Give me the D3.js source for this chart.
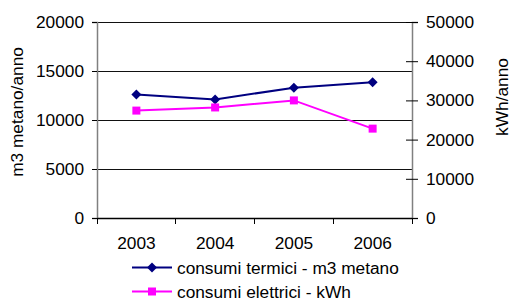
<!DOCTYPE html>
<html><head><meta charset="utf-8">
<script src="https://cdn.jsdelivr.net/npm/d3@7/dist/d3.min.js"></script>
<style>body{margin:0;background:#fff}svg text{font-family:"Liberation Sans",Arial,sans-serif;}</style>
</head><body>
<svg id="c" width="514" height="301"></svg>
<script>
const years = ["2003","2004","2005","2006"];
const termici = [12600, 12100, 13300, 13850];
const elettrici = [27400, 28200, 30000, 22800];
const leftTicks = [0,5000,10000,15000,20000];
const rightTicks = [0,10000,20000,30000,40000,50000];
const seriesNames = ["consumi termici - m3 metano","consumi elettrici - kWh"];

const svg = d3.select("#c");
const L=97, R=412, T=22, B=218;
const fs = 17.3;
const x = d3.scaleBand().domain(years).range([L,R]);
const yL = d3.scaleLinear().domain([0,20000]).range([B,T]);
const yR = d3.scaleLinear().domain([0,50000]).range([B,T]);

// gridlines
svg.append("g").selectAll("line").data(leftTicks.filter(d=>d>0)).join("line")
  .attr("x1",L).attr("x2",R).attr("y1",d=>yL(d)).attr("y2",d=>yL(d))
  .attr("stroke","#111").attr("stroke-width",1).attr("shape-rendering","crispEdges");

// left axis
const ga = svg.append("g").attr("transform",`translate(${L},0)`)
  .call(d3.axisLeft(yL).tickValues(leftTicks).tickSize(5).tickPadding(8).tickFormat(d3.format("d")));
ga.select(".domain").attr("stroke","#808080").attr("stroke-width",1.5);
ga.selectAll(".tick line").attr("stroke","#000");
ga.selectAll("text").attr("font-size",fs).attr("fill","#000").attr("font-family","Liberation Sans, Arial, sans-serif");

// right axis (cross ticks)
const gr = svg.append("g").attr("transform",`translate(${R},0)`)
  .call(d3.axisRight(yR).tickValues(rightTicks).tickSize(6).tickPadding(8).tickFormat(d3.format("d")));
gr.select(".domain").attr("stroke","#808080").attr("stroke-width",1.5);
gr.selectAll(".tick line").attr("x1",-6).attr("stroke","#000");
gr.selectAll("text").attr("font-size",fs).attr("fill","#000").attr("font-family","Liberation Sans, Arial, sans-serif");

// bottom axis
const gb = svg.append("g").attr("transform",`translate(0,${B})`)
  .call(d3.axisBottom(x).tickSize(0).tickPadding(19));
gb.select(".domain").attr("stroke","#000").attr("stroke-width",1.5);
gb.selectAll("text").attr("font-size",fs).attr("fill","#000").attr("font-family","Liberation Sans, Arial, sans-serif");
const bounds = years.map(d=>x(d)).concat([R]);
svg.append("g").selectAll("line").data(bounds).join("line")
  .attr("x1",d=>d).attr("x2",d=>d).attr("y1",B).attr("y2",B+6)
  .attr("stroke","#000").attr("shape-rendering","crispEdges");

// axis titles
svg.append("text").attr("transform",`translate(23,112) rotate(-90)`).attr("text-anchor","middle")
  .attr("font-size",fs).text("m3 metano/anno");
svg.append("text").attr("transform",`translate(508,97) rotate(-90)`).attr("text-anchor","middle")
  .attr("font-size",fs).text("kWh/anno");

const cx = d => x(d)+x.bandwidth()/2;
const diamond = d3.symbol().type(d3.symbolDiamond2).size(64);
const square = d3.symbol().type(d3.symbolSquare).size(64);

// termici
svg.append("path").datum(termici)
  .attr("d", d3.line().x((d,i)=>cx(years[i])).y(d=>yL(d)))
  .attr("fill","none").attr("stroke","#000080").attr("stroke-width",2);
svg.append("g").selectAll("path").data(termici).join("path")
  .attr("transform",(d,i)=>`translate(${cx(years[i])},${yL(d)})`).attr("d",diamond).attr("fill","#000080");

// elettrici
svg.append("path").datum(elettrici)
  .attr("d", d3.line().x((d,i)=>cx(years[i])).y(d=>yR(d)))
  .attr("fill","none").attr("stroke","#FF00FF").attr("stroke-width",2);
svg.append("g").selectAll("path").data(elettrici).join("path")
  .attr("transform",(d,i)=>`translate(${cx(years[i])},${yR(d)})`).attr("d",square).attr("fill","#FF00FF");

// legend
const leg = [{c:"#000080",s:diamond},{c:"#FF00FF",s:square}];
leg.forEach((l,i)=>{
  const y = 267.5 + i*24;
  svg.append("line").attr("x1",132).attr("x2",172).attr("y1",y).attr("y2",y).attr("stroke",l.c).attr("stroke-width",2);
  svg.append("path").attr("transform",`translate(152,${y})`).attr("d",l.s).attr("fill",l.c);
  svg.append("text").attr("x",177).attr("y",y).attr("dy","0.35em").attr("font-size",fs).text(seriesNames[i]);
});
</script>
</body></html>
